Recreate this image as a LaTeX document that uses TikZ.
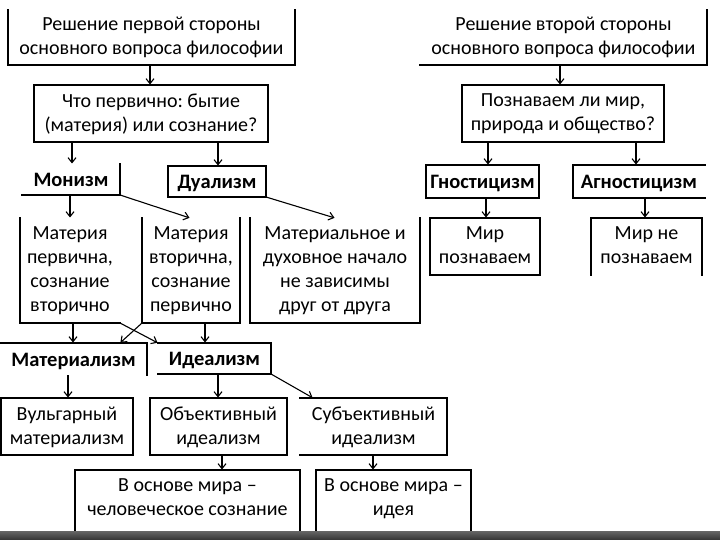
\documentclass[tikz,border=0pt]{standalone}
\usepackage{fontspec}
\setmainfont{Carlito}
\usetikzlibrary{arrows.meta}
\frenchspacing
% style, name, x1, y1, x2, y2, text
\newcommand\bxnode[7]{%
  \pgfmathsetmacro\bxw{#5-#3}\pgfmathsetmacro\bxh{#6-#4}%
  \node[frame, minimum width=\bxw pt, minimum height=\bxh pt] (#2) at ({(#3+#5)/2},{(#4+#6)/2}) {};
  \node[#1] (#2t) at ({(#3+#5)/2},{(#4+#6)/2+2.5}) {#7};}
\begin{document}
\begin{tikzpicture}[x=1pt,y=-1pt,
  ln/.style={line width=1.1pt, line cap=rect},
  arr/.style={line width=1.1pt, -{Straight Barb[length=5pt,width=8pt]}, shorten >=0.5pt},
  frame/.style={inner sep=0pt, outer sep=0pt},
  bx/.style={inner sep=0pt, outer sep=0pt, align=center, font=\fontsize{20}{24}\selectfont\frenchspacing,
    execute at begin node=\strut, execute at end node=\strut},
  bb/.style={bx, font=\fontsize{20.5}{24}\selectfont\bfseries}]
\useasboundingbox (0,0) rectangle (720,540);
\fill[white] (0,0) rectangle (720,540);
% left column
\bxnode{bx}{b1}{8}{8}{295}{65}{Решение первой стороны\\основного вопроса философии}
\bxnode{bx}{b2}{34}{85}{268}{142}{Что первично: бытие\\(материя) или сознание?}
\bxnode{bb}{mon}{22}{164}{120}{195}{Монизм}
\bxnode{bb}{dua}{168}{166}{266}{197}{Дуализм}
\bxnode{bx}{m1}{20}{218}{120}{323}{Материя\\первична,\\сознание\\вторично}
\bxnode{bx}{m2}{142}{218}{240}{323}{Материя\\вторична,\\сознание\\первично}
\bxnode{bx}{m3}{250}{218}{420}{323}{Материальное и\\духовное начало\\не зависимы\\друг от друга}
\bxnode{bb}{mat}{0}{343}{147}{375}{Материализм}
\bxnode{bb}{ide}{158}{343}{271}{374}{Идеализм}
\bxnode{bx}{vul}{1}{398}{133}{455}{Вульгарный\\материализм}
\bxnode{bx}{obj}{150}{398}{287}{455}{Объективный\\идеализм}
\bxnode{bx}{sub}{300}{398}{447}{455}{Субъективный\\идеализм}
\bxnode{bx}{os1}{75}{470}{300}{526}{В основе мира –\\человеческое сознание}
\bxnode{bx}{os2}{316}{470}{471}{526}{В основе мира –\\идея}
% right column
\bxnode{bx}{r1}{420}{8}{707}{65}{Решение второй стороны\\основного вопроса философии}
\bxnode{bx}{r2}{462}{85}{664}{142}{Познаваем ли мир,\\природа и общество?}
\bxnode{bb}{gno}{426}{165}{539}{198}{Гностицизм}
\bxnode{bb}{agn}{573}{165}{705}{198}{Агностицизм}
\bxnode{bx}{mp}{430}{218}{540}{275}{Мир\\познаваем}
\bxnode{bx}{mnp}{591}{218}{702}{275}{Мир не\\познаваем}
% borders
\draw[ln] ([yshift=-2pt]b1.north west) -- (b1.south west) -- (b1.south east) -- ([yshift=-2pt]b1.north east);
\draw[ln] (b2.north west) rectangle (b2.south east);
\draw[ln] (mon.north east) -- (mon.south east) -- (mon.south west);
\draw[ln] (dua.north west) rectangle (dua.south east);
\draw[ln] (m1.north west) -- (m1.south west) -- (m1.south east);
\draw[ln] (m2.north west) -- (m2.south west) -- (m2.south east) -- (m2.north east);
\draw[ln] (m3.north west) -- (m3.south west) -- (m3.south east) -- (m3.north east);
\draw[ln] (mat.north west) -- (mat.north east) -- (mat.south east);
\draw[ln] (ide.north west) -- (ide.north east) -- (ide.south east) -- (ide.south west);
\draw[ln] (vul.north west) rectangle (vul.south east);
\draw[ln] (obj.north west) rectangle (obj.south east);
\draw[ln] (sub.north west) -- (sub.north east) -- (sub.south east) -- (sub.south west);
\draw[ln] ([yshift=-4pt]os1.south west) -- (os1.north west) -- (os1.north east) -- ([yshift=-4pt]os1.south east);
\draw[ln] ([yshift=-4pt]os2.south west) -- (os2.north west) -- (os2.north east) -- ([yshift=-4pt]os2.south east);
\draw[ln] (r1.south west) -- (r1.south east) -- ([yshift=-2pt]r1.north east);
\draw[ln] (r2.north west) rectangle (r2.south east);
\draw[ln] (gno.north west) rectangle (gno.south east);
\draw[ln] (agn.north east) -- (agn.north west) -- (agn.south west) -- (agn.south east);
\draw[ln] (mp.north west) rectangle (mp.south east);
\draw[ln] (mnp.south west) -- (mnp.north west) -- (mnp.north east) -- (mnp.south east);
% arrows
\draw[arr] (b1.south -| 150,0) -- (b2.north -| 150,0);
\draw[arr] (b2.south -| 72,0) -- (mon.north -| 72,0);
\draw[arr] (b2.south -| 218,0) -- (dua.north -| 218,0);
\draw[arr] (mon.south -| 70,0) -- (m1.north -| 70,0);
\draw[arr] (mon.south east) -- (m2.north -| 190,0);
\draw[arr] (dua.south east) -- (m3.north -| 335,0);
\draw[arr] (m1.south -| 73,0) -- (mat.north -| 73,0);
\draw[arr] (m1.south east) -- (ide.north west);
\draw[arr] (m2.south west) -- (mat.north -| 120,0);
\draw[arr] (m2.south -| 205,0) -- (ide.north -| 205,0);
\draw[arr] (mat.south -| 68,0) -- (vul.north -| 68,0);
\draw[arr] (ide.south -| 218,0) -- (obj.north -| 218,0);
\draw[arr] (ide.south east) -- (sub.north -| 313,0);
\draw[arr] (obj.south -| 222,0) -- (os1.north -| 222,0);
\draw[arr] (sub.south -| 373,0) -- (os2.north -| 373,0);
\draw[arr] (r1.south -| 560,0) -- (r2.north -| 560,0);
\draw[arr] (r2.south -| 488,0) -- (gno.north -| 488,0);
\draw[arr] (r2.south -| 636,0) -- (agn.north -| 636,0);
\draw[arr] (gno.south -| 486,0) -- (mp.north -| 486,0);
\draw[arr] (agn.south -| 645,0) -- (mnp.north -| 645,0);
% bottom bar
\shade[top color=black!60, bottom color=black!80] (0,531) rectangle (720,540);
\end{tikzpicture}
\end{document}
